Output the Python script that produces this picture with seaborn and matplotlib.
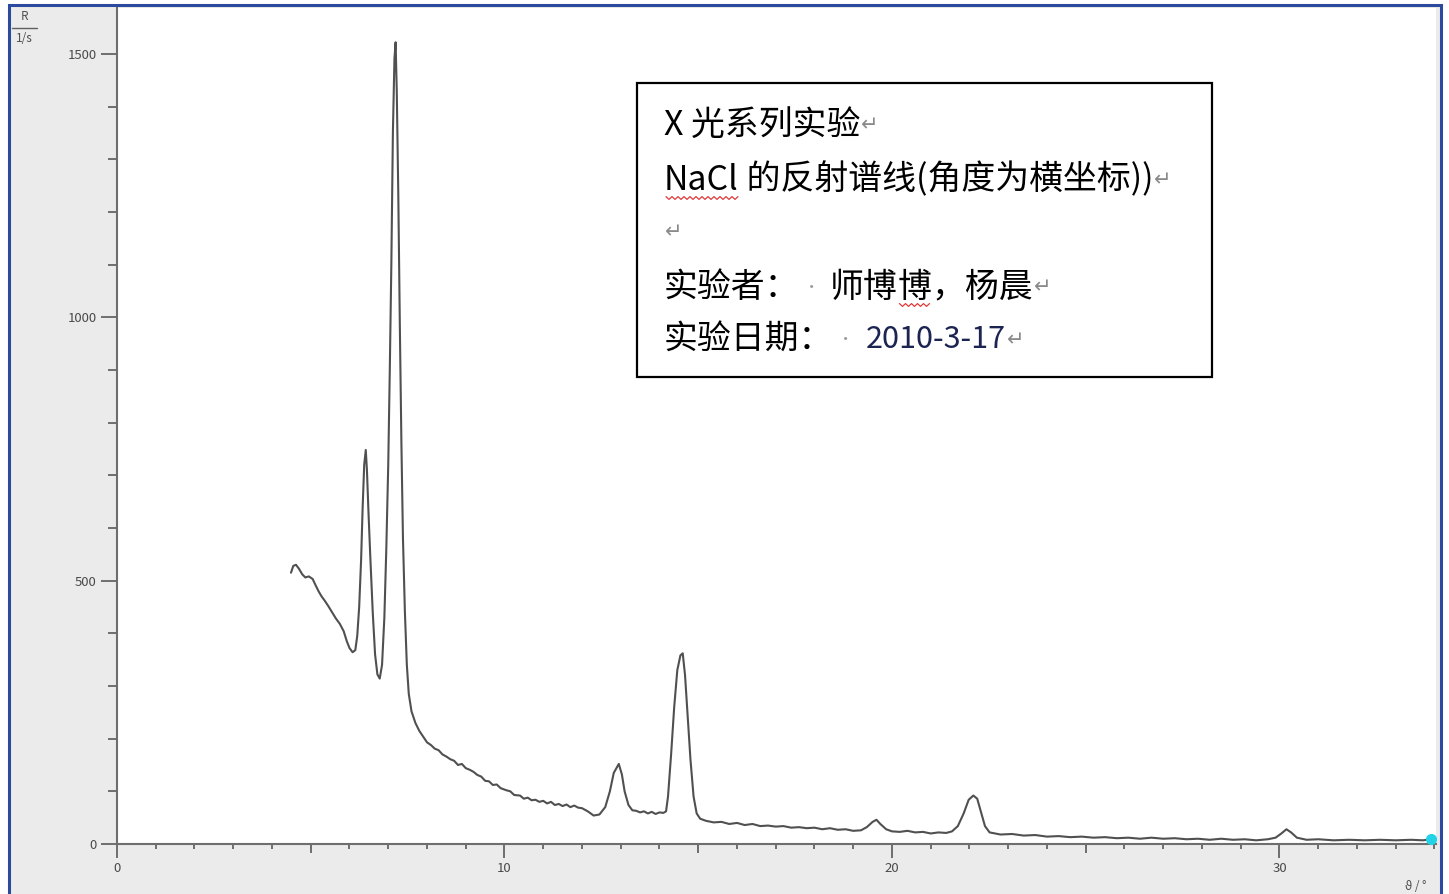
import matplotlib
matplotlib.use("Agg")
import matplotlib.pyplot as plt
import numpy as np
import seaborn as sns
from matplotlib.patches import Rectangle
from matplotlib.lines import Line2D
from matplotlib.transforms import IdentityTransform
from matplotlib.ticker import MultipleLocator

# counting rate R (1/s) against angle theta (deg)
theta = [4.49, 4.55, 4.62, 4.70, 4.78, 4.86, 4.95, 5.05, 5.12, 5.20, 5.28, 5.36, 5.45, 5.55,
         5.65, 5.75, 5.85, 5.93, 6.00, 6.08, 6.15, 6.20, 6.25, 6.30, 6.34, 6.38, 6.42, 6.45,
         6.49, 6.54, 6.60, 6.66, 6.72, 6.78, 6.84, 6.90, 6.95, 7.00, 7.04, 7.08, 7.12, 7.16,
         7.19, 7.22, 7.26, 7.30, 7.34, 7.38, 7.43, 7.48, 7.53, 7.60, 7.70, 7.80, 7.90, 8.00,
         8.10, 8.20, 8.30, 8.40, 8.50, 8.60, 8.70, 8.80, 8.90, 9.00, 9.10, 9.20, 9.30, 9.40,
         9.50, 9.60, 9.70, 9.80, 9.90, 10.05, 10.15, 10.25, 10.40, 10.50, 10.60, 10.70, 10.80,
         10.90, 11.00, 11.10, 11.20, 11.30, 11.40, 11.50, 11.60, 11.70, 11.80, 11.90, 12.00,
         12.15, 12.30, 12.45, 12.60, 12.72, 12.82, 12.95, 13.03, 13.10, 13.20, 13.30, 13.40,
         13.50, 13.60, 13.70, 13.80, 13.90, 14.00, 14.10, 14.17, 14.22, 14.30, 14.38, 14.46,
         14.54, 14.60, 14.66, 14.72, 14.80, 14.88, 14.96, 15.05, 15.20, 15.40, 15.60, 15.80,
         16.00, 16.20, 16.40, 16.60, 16.80, 17.00, 17.20, 17.40, 17.60, 17.80, 18.00, 18.20,
         18.40, 18.60, 18.80, 19.00, 19.20, 19.35, 19.50, 19.60, 19.70, 19.85, 20.00, 20.20,
         20.40, 20.60, 20.80, 21.00, 21.20, 21.40, 21.55, 21.70, 21.85, 21.98, 22.10, 22.20,
         22.30, 22.40, 22.52, 22.80, 23.10, 23.40, 23.70, 24.00, 24.30, 24.60, 24.90, 25.20,
         25.50, 25.80, 26.10, 26.40, 26.70, 27.00, 27.30, 27.60, 27.90, 28.20, 28.50, 28.80,
         29.10, 29.40, 29.70, 29.90, 30.05, 30.18, 30.30, 30.45, 30.70, 31.00, 31.40, 31.80,
         32.20, 32.60, 33.00, 33.40, 33.70, 33.92]
rate = [515, 528, 530, 522, 512, 506, 508, 503, 492, 480, 470, 462, 452, 440,
        428, 418, 404, 385, 372, 364, 368, 395, 450, 540, 640, 720, 748, 710,
        630, 540, 440, 360, 322, 314, 340, 430, 560, 720, 900, 1100, 1350, 1490,
        1522, 1430, 1230, 980, 760, 580, 440, 340, 285, 252, 230, 215, 204, 193,
        188, 181, 178, 170, 166, 161, 158, 150, 152, 144, 141, 137, 131, 128,
        120, 119, 112, 113, 106, 102, 100, 93, 92, 86, 88, 83, 84,
        80, 82, 77, 80, 74, 76, 72, 75, 70, 73, 69, 68,
        62, 54, 56, 70, 100, 135, 152, 132, 100, 74, 64, 63,
        60, 62, 58, 61, 57, 60, 59, 62, 90, 170, 260, 330,
        358, 362, 320, 250, 160, 90, 58, 48, 44, 41, 42, 38,
        40, 36, 38, 34, 35, 33, 34, 31, 32, 30, 31, 28,
        30, 27, 28, 25, 26, 32, 42, 46, 38, 28, 24, 23,
        25, 22, 23, 20, 22, 21, 24, 34, 58, 84, 92, 86,
        60, 34, 22, 18, 19, 16, 17, 14, 15, 13, 14, 12,
        13, 11, 12, 10, 12, 10, 11, 9, 10, 8, 10, 8,
        9, 7, 9, 12, 20, 28, 22, 12, 8, 9, 7, 8,
        7, 8, 7, 8, 7, 9]

x_ticks = [0, 10, 20, 30]
x_mid_ticks = [5, 15, 25]
y_ticks = [0, 500, 1000, 1500]

note_lines = [
    [("X 光系列实验", "black"), ("↵", "grey")],
    [("NaCl", "wavy"), (" 的反射谱线(角度为横坐标))", "black"), ("↵", "grey")],
    [("↵", "grey")],
    [("实验者：", "black"), ("·", "dot"), ("师博", "black"), ("博", "wavy"), ("，杨晨", "black"), ("↵", "grey")],
    [("实验日期：", "black"), ("·", "dot"), ("2010-3-17", "navy"), ("↵", "grey")],
]

sns.set_theme(style="white")
plt.rcParams['font.family'] = ['Noto Sans CJK SC', 'DejaVu Sans']

W, H = 1449, 894
fig = plt.figure(figsize=(W / 100, H / 100), dpi=100, facecolor='white')

# grey window with blue frame, kept behind the axes
fig.patches.append(Rectangle((9 / W, -0.02), (1441 - 9) / W, 1.02 - 5 / H,
                             transform=fig.transFigure, facecolor='#ebebeb',
                             edgecolor='#2b4a9e', lw=2.2, zorder=-5))

ax = fig.add_axes([117 / W, 1 - 844 / H, (1436 - 117) / W, (844 - 8) / H])
ax.set_facecolor('white')

sns.lineplot(x=theta, y=rate, ax=ax, color='#505050', linewidth=1.5,
             sort=False, estimator=None)
ax.plot(theta[-1], rate[-1], marker='o', ms=7, color='#22d3e8', clip_on=False, zorder=5)

ax.set_xlim(0, 34.04)
ax.set_ylim(0, 1587)

for side in ['top', 'right']:
    ax.spines[side].set_visible(False)
for side in ['left', 'bottom']:
    ax.spines[side].set_color('#6e6e6e')
    ax.spines[side].set_linewidth(1.5)

ax.set_xticks(x_ticks)
ax.set_yticks(y_ticks)
ax.xaxis.set_minor_locator(MultipleLocator(1))
ax.yaxis.set_minor_locator(MultipleLocator(100))
ax.tick_params(which='both', bottom=True, left=True, direction='out')
ax.tick_params(axis='y', which='major', length=11.5, width=1.4, color='#6e6e6e',
               labelsize=9.5, labelcolor='#4a4a4a', pad=3)
ax.tick_params(axis='y', which='minor', length=6.5, width=1.4, color='#6e6e6e')
ax.tick_params(axis='x', which='major', length=10, width=1.4, color='#6e6e6e',
               labelsize=9.5, labelcolor='#4a4a4a', pad=3)
ax.tick_params(axis='x', which='minor', length=3.6, width=1.4, color='#6e6e6e')
ax.set_xlabel('')
ax.set_ylabel('')

sec = ax.secondary_xaxis('bottom')
sec.set_xticks(x_mid_ticks)
sec.tick_params(bottom=True, direction='out', length=6.5, width=1.4, color='#6e6e6e',
                labelbottom=False)
sec.spines['bottom'].set_visible(False)

# axis captions
fig.text(24 / W, 1 - 17 / H, 'R', ha='center', va='center', fontsize=8.5, color='#505050')
fig.text(24 / W, 1 - 39 / H, '1/s', ha='center', va='center', fontsize=8.5, color='#505050')
fig.add_artist(Line2D([12 / W, 37 / W], [1 - 28 / H] * 2, color='#606060', lw=1))
fig.text(1416 / W, 1 - 887 / H, 'ϑ / °', ha='center', va='center', fontsize=8.5, color='#505050')

# note box
fig.patches.append(Rectangle((637 / W, 1 - 377 / H), (1212 - 637) / W, (377 - 83) / H,
                             transform=fig.transFigure, facecolor='white',
                             edgecolor='black', lw=1.6, zorder=3))

renderer = fig.canvas.get_renderer()
line_y = [125, 180, 232, 287, 340]
for segs, yy in zip(note_lines, line_y):
    x = 664
    for s, kind in segs:
        size, color, gap = 24.4, 'black', 0
        if kind == 'grey':
            size, color, gap = 15, '#8a8a8a', 1
        elif kind == 'dot':
            size, color, gap = 11, '#9a9a9a', 5
        elif kind == 'navy':
            size, color, gap = 22, '#1c2452', 2
        t = fig.text(x + gap, H - yy, s, transform=IdentityTransform(), fontsize=size,
                     color=color, ha='left', va='center', zorder=4)
        bb = t.get_window_extent(renderer)
        bb_x1 = bb.x1 + 10 if kind == 'dot' else bb.x1
        if kind == 'wavy':
            xs = np.arange(bb.x0 + 2, bb.x1, 3.0)
            ys = H - yy - 18 + 1.4 * np.array([(-1) ** i for i in range(len(xs))])
            fig.add_artist(Line2D(xs, ys, transform=IdentityTransform(), color='#e03a3a',
                                  lw=0.9, zorder=4))
        x = bb_x1

fig.savefig('out.png', dpi=100, facecolor=fig.get_facecolor())
